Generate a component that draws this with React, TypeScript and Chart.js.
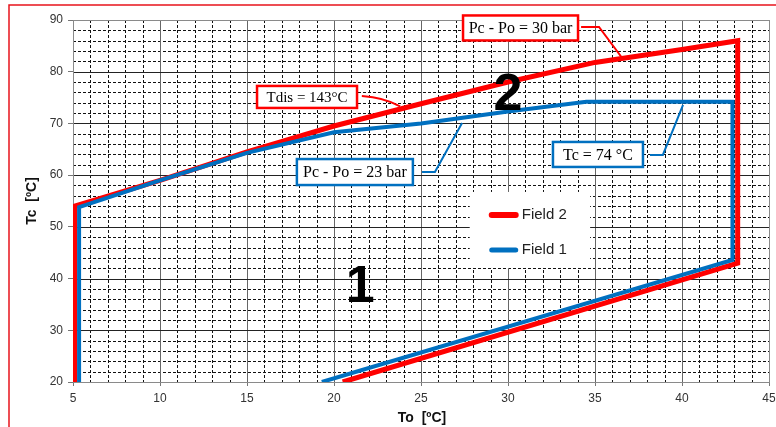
import React, { useEffect, useRef } from "react";
import { Chart, registerables } from "chart.js";

Chart.register(...registerables);

// ---- Data ----
const field2Label = "Field 2";
const field2X = [5.1, 5.1, 10, 15, 20, 25, 30, 35, 40, 43.2, 43.2, 20.5];
const field2Y = [20, 54, 59, 64.5, 69.5, 73.8, 78, 81.8, 84.3, 86, 43, 20];

const field1Label = "Field 1";
const field1X = [5.35, 5.35, 10, 15, 20, 25, 30, 34.5, 42.9, 42.9, 19.3];
const field1Y = [20, 53.8, 59, 64.3, 68.3, 70, 72.3, 74.2, 74.2, 43.6, 20];

const xMin = 5, xMax = 45, xStep = 5;
const yMin = 20, yMax = 90, yStep = 10;
const xTitle = "To  [ºC]";
const yTitle = "Tc  [ºC]";

const RED = "#ff0000";
const BLUE = "#0070c0";

type Note = {
  text: string; color: string; x: number; y: number; w: number; h: number;
  font: string; leader: number[][]; curve?: boolean;
};
const notes: Note[] = [
  { text: "Pc - Po = 30 bar", color: RED, x: 30.72, y: 88.46, w: 115, h: 25, font: "16px 'Liberation Serif', 'Times New Roman', serif",
    leader: [[34.2, 88.66], [35.23, 88.66], [36.55, 82.7]] },
  { text: "Tdis = 143°C", color: RED, x: 18.45, y: 75.12, w: 100, h: 22, font: "15px 'Liberation Serif', 'Times New Roman', serif",
    leader: [[21.6, 75.3], [22.9, 75.0], [23.8, 73.3]], curve: true },
  { text: "Pc - Po = 23 bar", color: BLUE, x: 21.2, y: 60.6, w: 116, h: 26, font: "16px 'Liberation Serif', 'Times New Roman', serif",
    leader: [[25.06, 60.6], [25.8, 60.6], [27.36, 70.1]] },
  { text: "Tc = 74 °C", color: BLUE, x: 35.17, y: 64.0, w: 90, h: 25, font: "16px 'Liberation Serif', 'Times New Roman', serif",
    leader: [[38.16, 63.9], [38.9, 63.9], [40.06, 73.6]] },
];
const bigLabels = [
  { text: "2", x: 30.0, y: 75.8 },
  { text: "1", x: 21.5, y: 38.7 },
];

const toPoints = (xs: number[], ys: number[]) => xs.map((x, i) => ({ x, y: ys[i] }));

const decorPlugin = {
  id: "decor",
  beforeDraw(chart: any) {
    const { ctx, width, height } = chart;
    ctx.save();
    ctx.fillStyle = "#ffffff";
    ctx.fillRect(0, 0, width, height);
    ctx.strokeStyle = "#e8141c";
    ctx.lineWidth = 1.5;
    ctx.beginPath();
    ctx.moveTo(9, height);
    ctx.lineTo(9, 5);
    ctx.lineTo(width, 5);
    ctx.stroke();
    ctx.restore();
  },
  beforeDatasetsDraw(chart: any) {
    const { ctx, chartArea, scales } = chart;
    const { left, right, top, bottom } = chartArea;
    const xs = scales.x, ys = scales.y;
    const r = (v: number) => Math.round(v) + 0.5;
    ctx.save();
    // minor dashed
    ctx.lineWidth = 1;
    ctx.strokeStyle = "#111";
    ctx.setLineDash([3, 2]);
    for (let v = xs.min + 1; v < xs.max; v++) {
      if (v % 5 === 0) continue;
      const px = r(xs.getPixelForValue(v));
      ctx.beginPath(); ctx.moveTo(px, top); ctx.lineTo(px, bottom); ctx.stroke();
    }
    for (let v = ys.min + 2; v < ys.max; v += 2) {
      if (v % 10 === 0) continue;
      const py = r(ys.getPixelForValue(v));
      ctx.beginPath(); ctx.moveTo(left, py); ctx.lineTo(right, py); ctx.stroke();
    }
    ctx.setLineDash([]);
    // majors
    ctx.strokeStyle = "#666";
    for (let v = xs.min + 5; v < xs.max; v += 5) {
      const px = r(xs.getPixelForValue(v));
      ctx.beginPath(); ctx.moveTo(px, top); ctx.lineTo(px, bottom); ctx.stroke();
    }
    ctx.strokeStyle = "#222";
    for (let v = ys.min + 10; v < ys.max; v += 10) {
      const py = r(ys.getPixelForValue(v));
      ctx.beginPath(); ctx.moveTo(left, py); ctx.lineTo(right, py); ctx.stroke();
    }
    ctx.strokeStyle = "#8a8a8a";
    ctx.strokeRect(r(left), r(top), Math.round(right - left), Math.round(bottom - top));
    ctx.restore();
  },
  afterDatasetsDraw(chart: any) {
    const { ctx, chartArea, scales } = chart;
    const xs = scales.x, ys = scales.y;
    const X = (v: number) => xs.getPixelForValue(v);
    const Y = (v: number) => ys.getPixelForValue(v);
    ctx.save();
    // legend
    const cw = chartArea.right - chartArea.left, chh = chartArea.bottom - chartArea.top;
    const lx = chartArea.left + cw * 0.570, ly = chartArea.top + chh * 0.475;
    const lw = cw * 0.173, lh = chh * 0.21;
    ctx.fillStyle = "#fff";
    ctx.fillRect(lx, ly, lw, lh);
    const ds = chart.data.datasets;
    const legendOrder = [1, 0];
    legendOrder.forEach((di, k) => {
      const d = ds[di];
      const yy = ly + 23 + k * 35;
      ctx.strokeStyle = d.borderColor;
      ctx.lineWidth = k === 0 ? 6 : 5;
      ctx.lineCap = "round";
      ctx.beginPath(); ctx.moveTo(lx + 22, yy); ctx.lineTo(lx + 46, yy); ctx.stroke();
      ctx.fillStyle = "#222";
      ctx.font = "15px Arial, 'Liberation Sans', sans-serif";
      ctx.textAlign = "left"; ctx.textBaseline = "middle";
      ctx.fillText(d.label, lx + 52, yy);
    });
    ctx.lineCap = "butt";
    // annotations
    notes.forEach((n) => {
      ctx.strokeStyle = n.color;
      ctx.lineWidth = 2;
      const p = n.leader.map(([a, b]) => [X(a), Y(b)]);
      ctx.beginPath();
      ctx.moveTo(p[0][0], p[0][1]);
      if (n.curve) ctx.quadraticCurveTo(p[1][0], p[1][1], p[2][0], p[2][1]);
      else for (let i = 1; i < p.length; i++) ctx.lineTo(p[i][0], p[i][1]);
      ctx.stroke();
      const cx = X(n.x), cy = Y(n.y);
      ctx.fillStyle = "#fff";
      ctx.fillRect(cx - n.w / 2, cy - n.h / 2, n.w, n.h);
      ctx.lineWidth = 2.5;
      ctx.strokeRect(cx - n.w / 2, cy - n.h / 2, n.w, n.h);
      ctx.fillStyle = "#000";
      ctx.font = n.font;
      ctx.textAlign = "center"; ctx.textBaseline = "middle";
      ctx.fillText(n.text, cx, cy + 1);
    });
    // big labels
    ctx.fillStyle = "#000";
    ctx.font = "bold 52px Arial, 'Liberation Sans', sans-serif";
    ctx.textAlign = "center"; ctx.textBaseline = "middle";
    bigLabels.forEach((b) => ctx.fillText(b.text, X(b.x), Y(b.y) + 2));
    // axis titles
    ctx.font = "bold 14px Arial, 'Liberation Sans', sans-serif";
    ctx.fillStyle = "#111";
    ctx.fillText(xTitle, (chartArea.left + chartArea.right) / 2 + 1, 418);
    ctx.translate(32, (chartArea.top + chartArea.bottom) / 2);
    ctx.rotate(-Math.PI / 2);
    ctx.fillText(yTitle, 0, 0);
    ctx.restore();
  },
};

export default function App() {
  const ref = useRef<HTMLCanvasElement | null>(null);
  useEffect(() => {
    if (!ref.current) return;
    const chart = new Chart(ref.current, {
      type: "scatter",
      data: {
        datasets: [
          { label: field1Label, data: toPoints(field1X, field1Y), showLine: true, borderColor: BLUE, backgroundColor: BLUE, borderWidth: 4, pointRadius: 0, tension: 0, borderJoinStyle: "miter" },
          { label: field2Label, data: toPoints(field2X, field2Y), showLine: true, borderColor: RED, backgroundColor: RED, borderWidth: 5, pointRadius: 0, tension: 0, borderJoinStyle: "miter" },
        ],
      } as any,
      options: {
        animation: false,
        responsive: false,
        devicePixelRatio: 1,
        layout: { padding: { top: 20, right: 7, left: 0, bottom: 0 } },
        plugins: { legend: { display: false }, tooltip: { enabled: false }, title: { display: false } },
        scales: {
          x: {
            type: "linear", min: xMin, max: xMax,
            ticks: { stepSize: xStep, color: "#333", font: { size: 12, family: "Arial, 'Liberation Sans', sans-serif" }, padding: 5 },
            grid: { drawOnChartArea: false, drawTicks: true, tickLength: 4, color: "#777" },
            border: { display: false },
            afterFit: (s: any) => { s.height = 45; s.paddingLeft = 0; s.paddingRight = 0; },
          },
          y: {
            type: "linear", min: yMin, max: yMax,
            ticks: { stepSize: yStep, color: "#333", font: { size: 12, family: "Arial, 'Liberation Sans', sans-serif" }, padding: 5 },
            grid: { drawOnChartArea: false, drawTicks: true, tickLength: 5, color: "#777" },
            border: { display: false },
            afterFit: (s: any) => { s.width = 73; s.paddingTop = 0; s.paddingBottom = 0; },
          },
        },
      } as any,
      plugins: [decorPlugin],
    });
    return () => chart.destroy();
  }, []);
  return (
    <div style={{ position: "fixed", left: 0, top: 0, width: 776, height: 427, background: "#fff" }}>
      <canvas ref={ref} width={776} height={427} style={{ width: 776, height: 427, display: "block" }} />
    </div>
  );
}
